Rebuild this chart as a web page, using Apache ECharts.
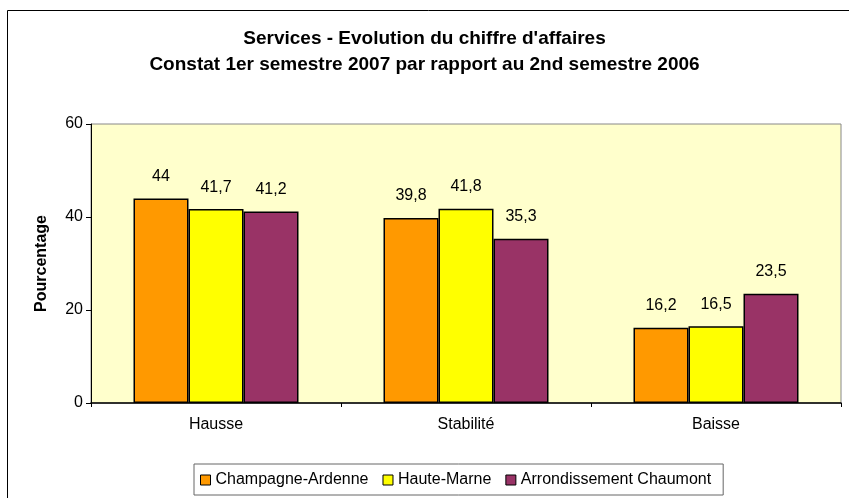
<!DOCTYPE html>
<html>
<head>
<meta charset="utf-8">
<script src="https://cdn.jsdelivr.net/npm/echarts@6/dist/echarts.min.js"></script>
<style>
  html, body { margin: 0; padding: 0; background: #fff; }
  #chart { width: 849px; height: 498px; }
</style>
</head>
<body>
<div id="chart"></div>
<script>
var categories = ["Hausse", "Stabilité", "Baisse"];
var seriesNames = ["Champagne-Ardenne", "Haute-Marne", "Arrondissement Chaumont"];
var champagne = [44, 39.8, 16.2];
var hauteMarne = [41.7, 41.8, 16.5];
var chaumont = [41.2, 35.3, 23.5];
var colors = ["#FF9900", "#FFFF00", "#993366"];

var chart = echarts.init(document.getElementById("chart"));

var makeSeries = function(name, data, color) {
    return {
        name: name,
        type: "bar",
        data: data,
        barGap: "0%",
        barCategoryGap: "34%",
        itemStyle: { color: color, borderColor: "#000", borderWidth: 1.5 },
        label: {
            show: true,
            position: "top",
            distance: 14,
            color: "#000",
            fontFamily: "Liberation Sans",
            fontSize: 16,
            formatter: function(p) { return String(p.value).replace(".", ","); }
        }
    };
};

var option = {
    animation: false,
    color: colors,
    graphic: [{
        type: "rect",
        shape: { x: 7.5, y: 10.5, width: 860, height: 500 },
        style: { fill: "none", stroke: "#000", lineWidth: 1 },
        silent: true
    }],
    title: {
        text: "Services - Evolution du chiffre d'affaires\nConstat 1er semestre 2007 par rapport au 2nd semestre 2006",
        left: "center",
        top: 21,
        textStyle: {
            fontFamily: "Liberation Sans",
            fontSize: 19,
            fontWeight: "bold",
            color: "#000",
            lineHeight: 26
        }
    },
    legend: {
        data: seriesNames,
        bottom: 3,
        left: 194,
        padding: [8, 12, 7, 6],
        borderColor: "#666",
        borderWidth: 1,
        backgroundColor: "#fff",
        icon: "rect",
        itemWidth: 10,
        itemHeight: 10,
        itemGap: 14,
        textStyle: { fontFamily: "Liberation Sans", fontSize: 16, color: "#000" },
        itemStyle: { borderColor: "#000", borderWidth: 1 }
    },
    grid: {
        left: 91,
        right: 8,
        top: 124,
        bottom: 95,
        show: true,
        backgroundColor: "#FFFFCC",
        borderColor: "#888",
        borderWidth: 1
    },
    xAxis: {
        type: "category",
        data: categories,
        axisLine: { lineStyle: { color: "#000", width: 1.5 } },
        axisTick: { show: true, length: 4, lineStyle: { color: "#000" } },
        axisLabel: {
            margin: 14,
            fontFamily: "Liberation Sans",
            fontSize: 16,
            color: "#000"
        }
    },
    yAxis: {
        type: "value",
        min: 0,
        max: 60,
        interval: 20,
        name: "Pourcentage",
        nameLocation: "middle",
        nameGap: 41,
        nameTextStyle: {
            fontFamily: "Liberation Sans",
            fontSize: 16,
            fontWeight: "bold",
            color: "#000"
        },
        axisLine: { show: true, lineStyle: { color: "#000" } },
        axisTick: { show: true, length: 5, lineStyle: { color: "#000" } },
        splitLine: { show: false },
        axisLabel: {
            margin: 8,
            fontFamily: "Liberation Sans",
            fontSize: 16,
            color: "#000"
        }
    },
    series: [
        makeSeries(seriesNames[0], champagne, colors[0]),
        makeSeries(seriesNames[1], hauteMarne, colors[1]),
        makeSeries(seriesNames[2], chaumont, colors[2])
    ]
};

chart.setOption(option);
</script>
</body>
</html>
